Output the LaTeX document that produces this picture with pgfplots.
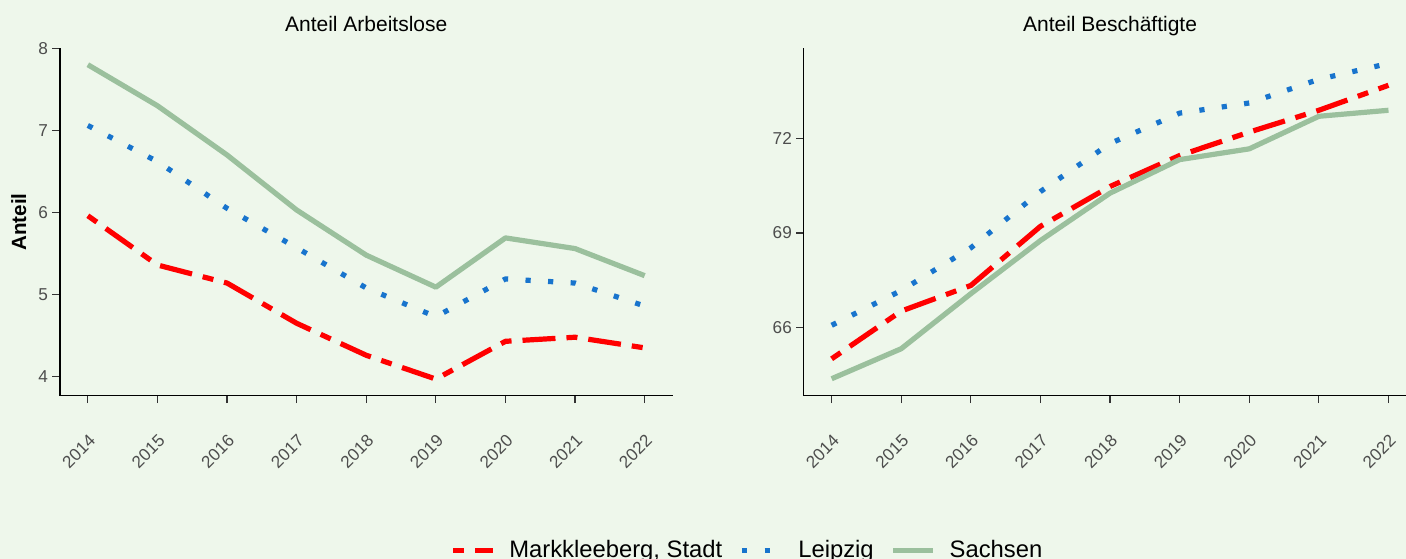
\documentclass[border=0pt]{standalone}
\usepackage{fontspec}
\setmainfont{Liberation Sans}
\usepackage{pgfplots}
\pgfplotsset{compat=1.18}
\definecolor{bg}{HTML}{EEF7EB}
\definecolor{sachsen}{RGB}{155,192,157}
\definecolor{leipzig}{RGB}{24,116,205}
\definecolor{mkred}{RGB}{255,0,0}
\definecolor{tickgray}{HTML}{4D4D4D}
\definecolor{tickline}{HTML}{333333}

\pgfplotstableread{
year mk lp sa
2014 5.96 7.06 7.80
2015 5.36 6.62 7.30
2016 5.14 6.05 6.70
2017 4.65 5.57 6.03
2018 4.26 5.08 5.48
2019 3.97 4.73 5.09
2020 4.43 5.19 5.69
2021 4.48 5.14 5.56
2022 4.35 4.86 5.23
}\arbeitslose

\pgfplotstableread{
year mk lp sa
2014 65.02 66.08 64.39
2015 66.53 67.18 65.34
2016 67.34 68.53 67.08
2017 69.21 70.31 68.76
2018 70.47 71.83 70.26
2019 71.45 72.79 71.32
2020 72.19 73.11 71.66
2021 72.88 73.86 72.69
2022 73.67 74.36 72.88
}\beschaeftigte

\pgfplotsset{
  panel/.style={
    scale only axis, width=306.25bp, height=173.6bp,
    xmin=2013.6, xmax=2022.4,
    axis x line=bottom, axis y line=left,
    axis line style={-, black, line width=0.55bp},
    tick align=outside, major tick length=3.8bp,
    tick style={tickline, line width=0.55bp},
    xtick={2014,...,2022},
    /pgf/number format/1000 sep={},
    /pgf/number format/assume math mode=true,
    ticklabel style={font=\fontsize{8.6bp}{10bp}\selectfont, text=tickgray},
    xticklabel style={yshift=-15bp, rotate=45, anchor=north east, inner sep=0pt},
    yticklabel style={inner sep=0pt, anchor=east, xshift=-2bp},
    every axis title/.style={font=\fontsize{10.5bp}{12bp}\selectfont, at={(0.5,1)}, anchor=base, yshift=8.3bp},
  },
  mk/.style={mkred, line width=2.6bp, dash pattern=on 5.5bp off 5.5bp on 16.5bp off 5.5bp, line join=round, line cap=butt},
  lp/.style={leipzig, line width=2.6bp, dash pattern=on 2.6bp off 8.7bp, line join=round, line cap=butt},
  sa/.style={sachsen, line width=2.6bp, line join=round, line cap=butt},
}

\begin{document}
\begin{tikzpicture}
\useasboundingbox (0,0) rectangle (703bp,279.5bp);
\fill[bg] (0,0) rectangle (703bp,279.5bp);
\clip (0,0) rectangle (703bp,279.5bp);

\begin{axis}[panel,
  at={(30bp,81.75bp)}, anchor=south west,
  ymin=3.77, ymax=8.0, ytick={4,5,6,7,8},
  title={Anteil Arbeitslose},
  ylabel={Anteil},
  every axis y label/.style={at={(axis description cs:-0.0555,0.5)}, rotate=90, anchor=base, font=\bfseries\fontsize{10.3bp}{12bp}\selectfont, text=black},
  legend style={at={(axis description cs:0.6374,-0.4464)}, anchor=west, draw=none, fill=none, inner sep=0pt, outer sep=0pt, legend columns=3, font=\fontsize{11.9bp}{14bp}\selectfont, column sep=6.85bp, /tikz/every even column/.append style={column sep=8.55bp}, nodes={inner sep=0pt}},
  legend image code/.code={\draw[#1] (0bp,0bp) -- (20bp,0bp);},
  legend cell align=left,
]
\addplot[mk] table[x=year, y=mk] {\arbeitslose};
\addlegendentry{Markkleeberg, Stadt}
\addplot[lp] table[x=year, y=lp] {\arbeitslose};
\addlegendentry{Leipzig}
\addplot[sa] table[x=year, y=sa] {\arbeitslose};
\addlegendentry{Sachsen}
\end{axis}

\begin{axis}[panel,
  at={(401.9bp,81.75bp)}, anchor=south west,
  ymin=63.86, ymax=74.84, ytick={66,69,72},
  title={Anteil Beschäftigte},
]
\addplot[mk] table[x=year, y=mk] {\beschaeftigte};
\addplot[lp] table[x=year, y=lp] {\beschaeftigte};
\addplot[sa] table[x=year, y=sa] {\beschaeftigte};
\end{axis}
\end{tikzpicture}
\end{document}
